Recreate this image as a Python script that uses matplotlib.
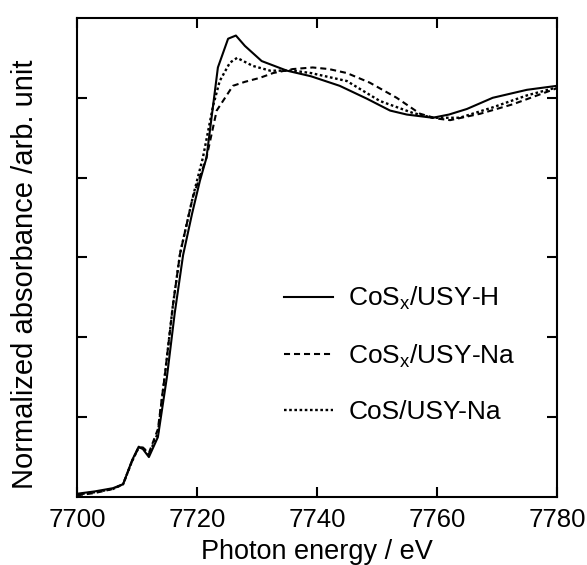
import matplotlib
matplotlib.use("Agg")
import matplotlib.pyplot as plt

plt.rcParams['font.family'] = ['Liberation Sans', 'DejaVu Sans']
plt.rcParams['mathtext.default'] = 'regular'

# CoSx/USY-H (solid)
x_h = [7700, 7703, 7706, 7707.7, 7709.2, 7710.3, 7711, 7712, 7713.5, 7715, 7716.3,
       7717.7, 7719.2, 7720.5, 7721.6, 7723.5, 7725.2, 7726.5, 7728, 7730.8, 7735,
       7739, 7743.8, 7748.3, 7752.2, 7755, 7759.3, 7762, 7765, 7769.3, 7775, 7780]
y_h = [0.04, 0.07, 0.11, 0.16, 0.46, 0.63, 0.60, 0.50, 0.75, 1.5, 2.3,
       3.03, 3.55, 3.96, 4.25, 5.38, 5.74, 5.78, 5.65, 5.46, 5.34,
       5.27, 5.15, 4.99, 4.84, 4.79, 4.75, 4.79, 4.86, 5.0, 5.1, 5.15]

# CoSx/USY-Na (dashed)
x_na = [7700, 7703, 7706, 7707.7, 7709.2, 7710.3, 7711, 7712, 7713.5, 7714.7, 7716,
        7717.2, 7719.3, 7721.6, 7723.3, 7726, 7728, 7730.5, 7732.7, 7736, 7739.3,
        7742, 7745, 7748.8, 7753.3, 7757.2, 7760, 7762.2, 7767.2, 7772.7, 7780]
y_na = [0.02, 0.05, 0.10, 0.16, 0.45, 0.62, 0.62, 0.55, 0.85, 1.55, 2.4,
        3.05, 3.75, 4.25, 4.84, 5.15, 5.2, 5.25, 5.31, 5.36, 5.38,
        5.36, 5.31, 5.19, 5.0, 4.8, 4.74, 4.72, 4.8, 4.92, 5.12]

# CoS/USY-Na (dotted)
x_cos = [7700, 7703, 7706, 7707.7, 7709.2, 7710.3, 7711, 7712, 7713.5, 7714.7, 7716,
         7717.2, 7719.3, 7721, 7722.7, 7723.8, 7725.5, 7726.7, 7729.3, 7732.2, 7736,
         7739, 7745, 7750.5, 7756, 7759.3, 7763.8, 7769.3, 7775, 7780]
y_cos = [0.03, 0.06, 0.10, 0.16, 0.45, 0.62, 0.61, 0.53, 0.8, 1.55, 2.4,
         3.05, 3.75, 4.25, 4.9, 5.21, 5.44, 5.5, 5.4, 5.34, 5.34,
         5.31, 5.21, 4.96, 4.81, 4.75, 4.75, 4.88, 5.03, 5.13]

labels = ['CoS$_x$/USY-H', 'CoS$_x$/USY-Na', 'CoS/USY-Na']
x_ticks = [7700, 7720, 7740, 7760, 7780]

fig = plt.figure(figsize=(5.87, 5.65), dpi=100)
ax = fig.add_axes([0.131, 0.1204, 0.8177, 0.8478])

lw = 1.5
ax.plot(x_h, y_h, color='black', lw=lw, label=labels[0])
ax.plot(x_na, y_na, color='black', lw=lw, linestyle=(0, (2.9, 1.9)), label=labels[1])
ax.plot(x_cos, y_cos, color='black', lw=1.7, linestyle=(0, (1.1, 1.1)), label=labels[2])

ax.set_xlim(7700, 7780)
ax.set_ylim(0, 6)
ax.set_xticks(x_ticks)
ax.set_yticks([1, 2, 3, 4, 5])
ax.set_yticklabels([])
ax.tick_params(direction='in', length=7, width=1.5, top=True, right=True,
               labelsize=18.5, pad=8)
for s in ax.spines.values():
    s.set_linewidth(1.5)

ax.set_xlabel('Photon energy / eV', fontsize=19.5)
ax.xaxis.set_label_coords(0.5, -0.088)
ax.set_ylabel('Normalized absorbance /arb. unit', fontsize=21)
ax.yaxis.set_label_coords(-0.079, 0.466)

ax.legend(loc='upper left', bbox_to_anchor=(0.431, 0.443), frameon=False,
          fontsize=19, handlelength=1.85, handletextpad=0.6,
          labelspacing=1.15, borderpad=0, borderaxespad=0)

fig.savefig('out.png', dpi=100)
